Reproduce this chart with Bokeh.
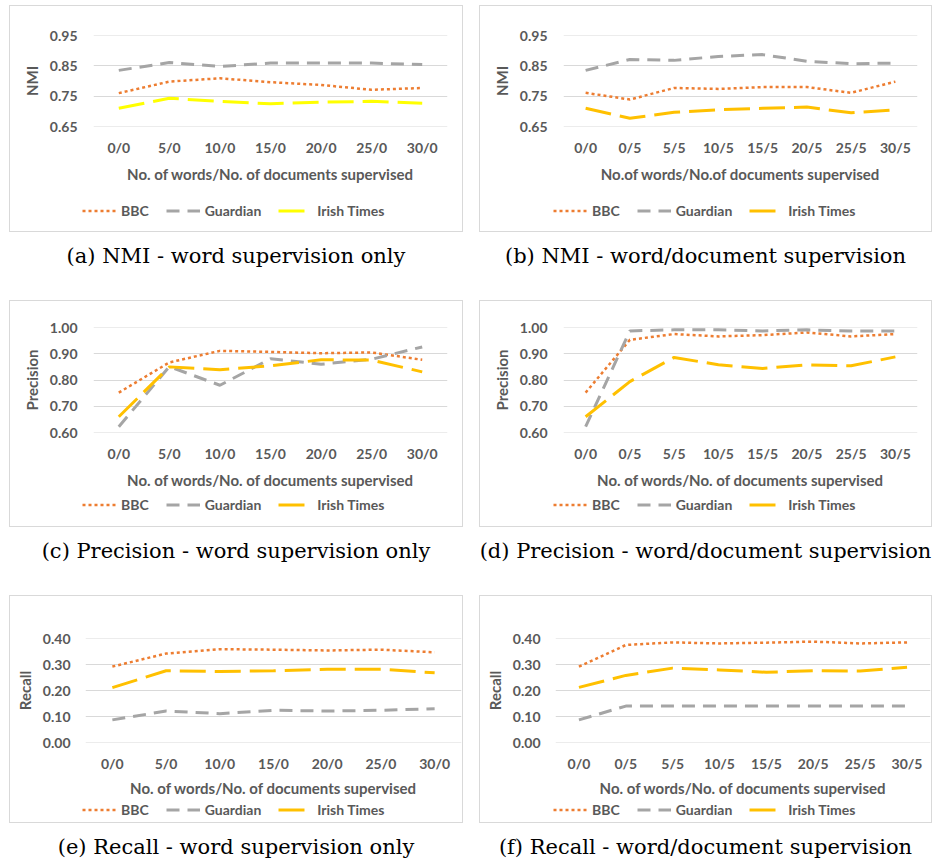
from bokeh.plotting import figure
from bokeh.models import FactorRange, Range1d, FixedTicker, PrintfTickFormatter, Legend, LegendItem, Div
from bokeh.layouts import column, row
from bokeh.embed import file_html
from bokeh.resources import INLINE

# ---------------- data ----------------
cats_word = ["0/0", "5/0", "10/0", "15/0", "20/0", "25/0", "30/0"]
cats_doc = ["0/0", "0/5", "5/5", "10/5", "15/5", "20/5", "25/5", "30/5"]

nmi_word_bbc = [0.760, 0.798, 0.809, 0.796, 0.787, 0.771, 0.777]
nmi_word_guardian = [0.835, 0.861, 0.848, 0.859, 0.859, 0.859, 0.854]
nmi_word_irish = [0.710, 0.743, 0.733, 0.725, 0.730, 0.733, 0.727]

nmi_doc_bbc = [0.761, 0.739, 0.777, 0.774, 0.780, 0.780, 0.761, 0.798]
nmi_doc_guardian = [0.835, 0.871, 0.868, 0.881, 0.887, 0.865, 0.857, 0.859]
nmi_doc_irish = [0.710, 0.677, 0.697, 0.705, 0.710, 0.714, 0.695, 0.705]

prec_word_bbc = [0.752, 0.867, 0.911, 0.907, 0.902, 0.905, 0.877]
prec_word_guardian = [0.622, 0.851, 0.780, 0.881, 0.860, 0.879, 0.926]
prec_word_irish = [0.660, 0.850, 0.839, 0.854, 0.877, 0.876, 0.831]

prec_doc_bbc = [0.752, 0.953, 0.975, 0.966, 0.971, 0.981, 0.966, 0.975]
prec_doc_guardian = [0.622, 0.987, 0.991, 0.991, 0.987, 0.991, 0.987, 0.987]
prec_doc_irish = [0.660, 0.794, 0.886, 0.858, 0.844, 0.858, 0.854, 0.888]

rec_word_bbc = [0.292, 0.342, 0.359, 0.357, 0.354, 0.357, 0.347]
rec_word_guardian = [0.087, 0.121, 0.111, 0.124, 0.121, 0.124, 0.130]
rec_word_irish = [0.211, 0.276, 0.273, 0.276, 0.282, 0.282, 0.268]

rec_doc_bbc = [0.292, 0.375, 0.385, 0.381, 0.384, 0.388, 0.381, 0.385]
rec_doc_guardian = [0.087, 0.140, 0.140, 0.140, 0.140, 0.140, 0.140, 0.140]
rec_doc_irish = [0.212, 0.258, 0.286, 0.279, 0.270, 0.276, 0.275, 0.289]

series_names = ["BBC", "Guardian", "Irish Times"]

nmi_ticks = [0.65, 0.75, 0.85, 0.95]
prec_ticks = [0.60, 0.70, 0.80, 0.90, 1.00]
rec_ticks = [0.00, 0.10, 0.20, 0.30, 0.40]

xlabel_std = "No. of words/No. of documents supervised"
xlabel_nmi_doc = "No.of words/No.of documents supervised"

captions = [
    "(a) NMI - word supervision only",
    "(b) NMI - word/document supervision",
    "(c) Precision - word supervision only",
    "(d) Precision - word/document supervision",
    "(e) Recall - word supervision only",
    "(f) Recall - word/document supervision",
]

# ---------------- style ----------------
FONT = "Lato"
TXT = "#595959"
C_BBC = "#ED7D31"
C_GUA = "#A5A5A5"
C_IRISH = "#FFC000"
C_IRISH_A = "#FFFF00"
ITEM_H = 17
STYLES = [
    dict(color=C_BBC, width=2.5, dash="3 3"),
    dict(color=C_GUA, width=3, dash="13 8"),
    dict(color=C_IRISH, width=3, dash="26 9"),
]


def style_axis(ax):
    ax.axis_line_color = None
    ax.major_tick_line_color = None
    ax.minor_tick_line_color = None
    ax.major_tick_out = 0
    ax.major_tick_in = 0
    ax.major_label_text_font = FONT
    ax.major_label_text_font_style = "bold"
    ax.major_label_text_font_size = "14px"
    ax.major_label_text_color = TXT
    ax.axis_label_text_font = FONT
    ax.axis_label_text_font_style = "bold"
    ax.axis_label_text_font_size = "15px"
    ax.axis_label_text_color = TXT


def make_panel(cats, values, ylabel, ticks, xlabel, irish_color,
               w, h, ch, mb, ystand, xlab_stand, leg_x, leg_vy):
    lo, hi = ticks[0], ticks[-1]
    colors = [STYLES[0]["color"], STYLES[1]["color"], irish_color]
    p = figure(width=w, height=ch, x_range=FactorRange(*cats),
               y_range=Range1d(lo - 1e-9, hi + 1e-9),
               output_backend="svg", toolbar_location=None,
               min_border_left=mb[0], min_border_right=mb[1],
               min_border_top=mb[2], min_border_bottom=ch - mb[2] - mb[3])
    p.outline_line_color = None
    p.xgrid.grid_line_color = None
    p.ygrid.grid_line_color = "#D9D9D9"
    p.ygrid.grid_line_width = 1
    p.yaxis.ticker = FixedTicker(ticks=ticks)
    p.yaxis.formatter = PrintfTickFormatter(format="%.2f")
    style_axis(p.xaxis[0])
    style_axis(p.yaxis[0])
    p.yaxis.axis_label = ylabel
    p.yaxis.major_label_standoff = ystand
    p.yaxis.axis_label_standoff = 6
    p.xaxis.axis_label = xlabel
    p.xaxis.major_label_standoff = 12
    p.xaxis.axis_label_standoff = xlab_stand

    for vals, st, col in zip(values, STYLES, colors):
        p.line(cats, vals, line_color=col, line_width=st["width"], line_dash=st["dash"])

    # legend strip (inside the same bordered box); its series copies are hidden,
    # they only supply the legend glyphs
    lf = figure(width=w, height=h - ch, x_range=FactorRange(*cats), y_range=Range1d(lo, hi),
                output_backend="svg", toolbar_location=None,
                min_border=0, min_border_left=0, min_border_right=0,
                min_border_top=0, min_border_bottom=0,
                x_axis_type=None, y_axis_type=None, frame_align=False)
    lf.outline_line_color = None
    rs = [lf.line(cats, vals, line_color=col, line_width=st["width"], line_dash=st["dash"],
                  visible=False)
          for vals, st, col in zip(values, STYLES, colors)]
    leg = Legend(items=[LegendItem(label=n, renderers=[r]) for n, r in zip(series_names, rs)],
                 location=(leg_x, leg_vy),
                 orientation="horizontal", margin=0, padding=0,
                 spacing=17, label_standoff=5, glyph_width=34, glyph_height=ITEM_H,
                 label_height=ITEM_H,
                 border_line_color=None, background_fill_alpha=0,
                 label_text_font=FONT, label_text_font_style="bold",
                 label_text_font_size="14px", label_text_color=TXT)
    lf.add_layout(leg, "center")
    return column(p, lf, spacing=0,
                  styles={"border": "1px solid #D9D9D9", "box-sizing": "content-box",
                          "background-color": "#FFFFFF"})


# mb = (left, right, top, frame height)
pa = make_panel(cats_word, [nmi_word_bbc, nmi_word_guardian, nmi_word_irish], "NMI", nmi_ticks,
                xlabel_std, C_IRISH_A, 452, 225, 192, (83, 15, 29, 91), 16, 6, 72, 12.5)
pb = make_panel(cats_doc, [nmi_doc_bbc, nmi_doc_guardian, nmi_doc_irish], "NMI", nmi_ticks,
                xlabel_nmi_doc, C_IRISH, 451, 225, 192, (83, 14, 29, 91), 16, 6, 73, 12.5)
pc = make_panel(cats_word, [prec_word_bbc, prec_word_guardian, prec_word_irish], "Precision", prec_ticks,
                xlabel_std, C_IRISH, 452, 225, 190, (83, 15, 26, 105), 16, 6, 72, 13.5)
pd = make_panel(cats_doc, [prec_doc_bbc, prec_doc_guardian, prec_doc_irish], "Precision", prec_ticks,
                xlabel_std, C_IRISH, 451, 225, 190, (83, 14, 26, 105), 16, 6, 73, 13.5)
pe = make_panel(cats_word, [rec_word_bbc, rec_word_guardian, rec_word_irish], "Recall", rec_ticks,
                xlabel_std, C_IRISH, 452, 226, 203, (75, 1, 42, 108), 15, 4, 72, 4.5)
pf = make_panel(cats_doc, [rec_doc_bbc, rec_doc_guardian, rec_doc_irish], "Recall", rec_ticks,
                xlabel_std, C_IRISH, 451, 226, 203, (75, 1, 42, 108), 15, 4, 73, 4.5)


def caption(txt, w, h):
    return Div(text='<div style="padding-top:9px">%s</div>' % txt, width=w, height=h, margin=0,
               styles={"font-family": "DejaVu Serif", "font-size": "21px", "text-align": "center",
                       "white-space": "nowrap", "color": "#000000"})


layout = column(
    row(pa, pb, spacing=16),
    row(caption(captions[0], 454, 68), caption(captions[1], 453, 68), spacing=16),
    row(pc, pd, spacing=16),
    row(caption(captions[2], 454, 68), caption(captions[3], 453, 68), spacing=16),
    row(pe, pf, spacing=16),
    row(caption(captions[4], 454, 36), caption(captions[5], 453, 36), spacing=16),
    spacing=0, margin=(5, 0, 0, 9),
)

open("out.html", "w").write(file_html(layout, INLINE))
